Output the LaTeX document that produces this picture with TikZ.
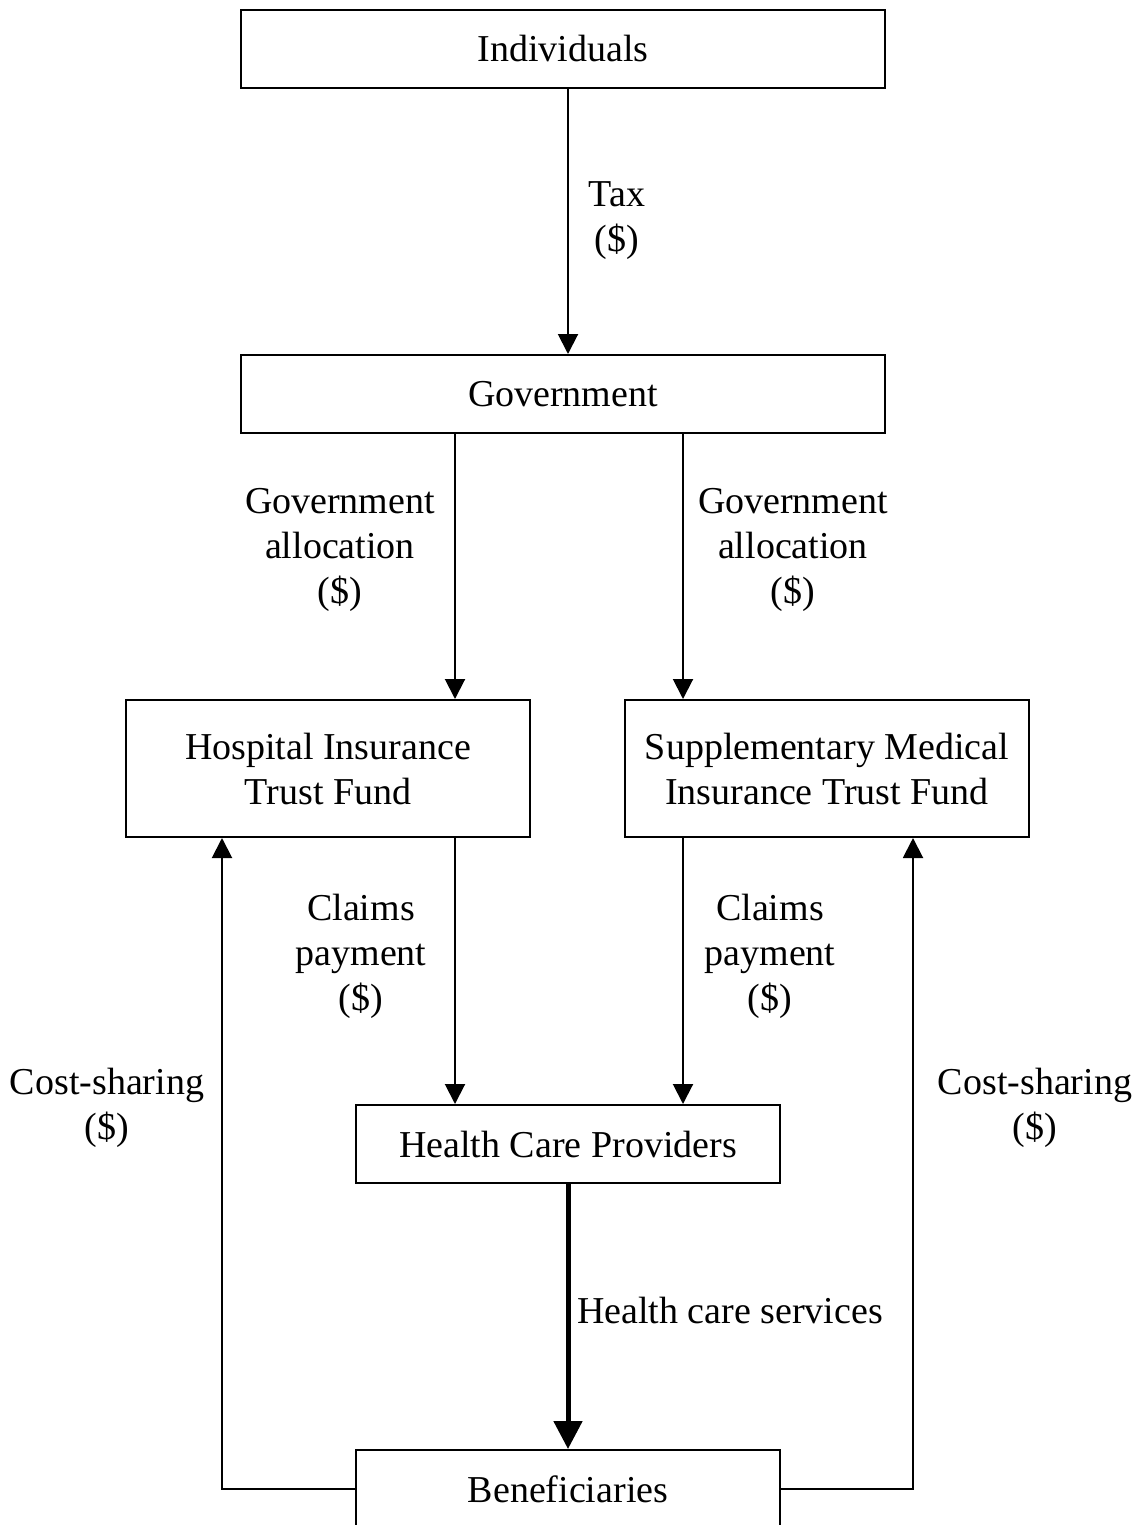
\documentclass[tikz,border=0pt]{standalone}
\usepackage{fontspec}
\setmainfont{Liberation Serif}
\usepackage{tikz}
\usetikzlibrary{positioning,calc,arrows.meta}

\begin{document}
\begin{tikzpicture}[
  x=0.5pt, y=-0.5pt,
  box/.style={draw, line width=1pt, inner sep=0pt, align=center, font=\fontsize{19}{22.5}\selectfont},
  lbl/.style={inner sep=0pt, align=center, font=\fontsize{19}{22.5}\selectfont},
  flow/.style={line width=1pt, -{Triangle[width=10pt,length=10pt]}},
  bigflow/.style={line width=2.5pt, -{Triangle[width=14pt,length=14pt]}},
]
\clip (0,0) rectangle (1139,1525);

\node[box, minimum width=322pt, minimum height=39pt] (ind) at (563,49) {Individuals};
\node[box, minimum width=322pt, minimum height=39pt] (gov) at (563,394) {Government};
\node[box, minimum width=202pt, minimum height=68.5pt] (hosp) at (328,768.5) {Hospital Insurance\\Trust Fund};
\node[box, minimum width=202pt, minimum height=68.5pt] (supp) at (827,768.5) {Supplementary Medical\\Insurance Trust Fund};
\node[box, minimum width=212pt, minimum height=39pt] (hcp) at (568,1144) {Health Care Providers};
\node[box, minimum width=212pt, minimum height=39pt] (ben) at (568,1489) {Beneficiaries};

% columns of the arrows
\coordinate (lc) at (455,0);
\coordinate (rc) at (683,0);
\coordinate (lo) at (222,0);
\coordinate (ro) at (913,0);

\draw[flow] (ind.south -| hcp) -- (gov.north -| hcp);
\draw[flow] (gov.south -| lc) -- (hosp.north -| lc);
\draw[flow] (gov.south -| rc) -- (supp.north -| rc);
\draw[flow] (hosp.south -| lc) -- (hcp.north -| lc);
\draw[flow] (supp.south -| rc) -- (hcp.north -| rc);
\draw[bigflow] (hcp.south) -- (ben.north);
\draw[flow] (ben.west) -| (hosp.south -| lo);
\draw[flow] (ben.east) -| (supp.south -| ro);

\node[lbl] (tax) at (617,221) {Tax\\(\$)};
\node[lbl] (galloc1) at (340,550) {Government\\allocation\\(\$)};
\node[lbl] (galloc2) at (793,550) {Government\\allocation\\(\$)};
\node[lbl] (claims1) at (361,956) {Claims\\payment\\(\$)};
\node[lbl] (claims2) at (770,956) {Claims\\payment\\(\$)};
\node[lbl] (cost1) at (107,1107.5) {Cost-sharing\\(\$)};
\node[lbl] (cost2) at (1035,1107.5) {Cost-sharing\\(\$)};
\node[lbl] (serv) at (730,1310) {Health care services};
\end{tikzpicture}
\end{document}
